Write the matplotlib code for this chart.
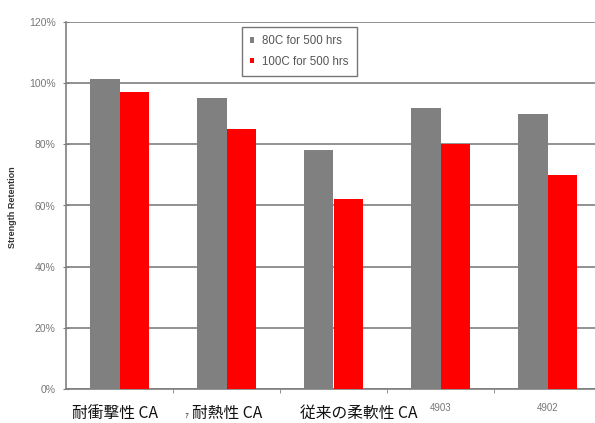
#!/usr/bin/env python3
# Strength retention bar chart (80C / 100C for 500 hrs).

import matplotlib

matplotlib.use("Agg")
import matplotlib.pyplot as plt
import numpy as np
from matplotlib.ticker import FuncFormatter, MultipleLocator

plt.rcParams["font.family"] = ["Liberation Sans", "Noto Sans CJK JP", "DejaVu Sans"]

# 데이터
categories = ["", "", "", "4903", "4902"]
jp_labels = ["耐衝撃性 CA", "耐熱性 CA", "従来の柔軟性 CA"]
series_names = ["80C for 500 hrs", "100C for 500 hrs"]
retention_80c = [1.015, 0.95, 0.78, 0.92, 0.90]
retention_100c = [0.97, 0.85, 0.62, 0.80, 0.70]

GRAY = "#808080"
RED = "#ff0000"
AXIS_GRAY = "#7f7f7f"

fig = plt.figure(figsize=(5.95, 4.23), dpi=100)
# x축은 오른쪽에서 그림 밖으로 약간 잘려 있다.
ax = fig.add_axes([66 / 595, 1 - 389 / 423, 535 / 595, 367 / 423])

x = np.arange(len(categories))
bw = 0.28
ax.bar(x - bw / 2, retention_80c, width=bw, color=GRAY, label=series_names[0], zorder=3)
ax.bar(x + bw / 2, retention_100c, width=bw, color=RED, label=series_names[1], zorder=3)

ax.set_xlim(-0.5, len(categories) - 0.5)
ax.set_ylim(0, 1.2)
ax.yaxis.set_major_locator(MultipleLocator(0.2))
ax.yaxis.set_major_formatter(FuncFormatter(lambda v, _: f"{v * 100:.0f}%"))
ax.grid(axis="y", color=AXIS_GRAY, linewidth=1.2, zorder=0)

ax.set_xticks(x)
ax.set_xticklabels(categories, fontsize=7, color="#777777")
ax.set_xticks(np.arange(len(categories)) + 0.5, minor=True)
ax.tick_params(axis="x", which="major", length=0, pad=10)
ax.tick_params(axis="x", which="minor", length=3, direction="out", color=AXIS_GRAY)
ax.tick_params(axis="y", length=5, direction="inout", color=AXIS_GRAY,
               labelsize=7.5, labelcolor="#777777", pad=5)

for side in ("top", "right"):
    ax.spines[side].set_visible(False)
for side in ("left", "bottom"):
    ax.spines[side].set_color(AXIS_GRAY)
    ax.spines[side].set_linewidth(1.2)

fig.text(13 / 595, 1 - 207 / 423, "Strength Retention", rotation=90,
         ha="center", va="center", fontsize=6.5, fontweight="bold", color="#333333")

leg = ax.legend(loc="upper left", bbox_to_anchor=(0.329, 0.986), fontsize=8.3,
                frameon=True, fancybox=False, edgecolor="#555555",
                handlelength=0.35, handleheight=0.35, handletextpad=0.7,
                borderpad=0.7, labelspacing=0.75, labelcolor="#555555",
                borderaxespad=0)
leg.get_frame().set_linewidth(1.0)

# 앞의 세 범주는 일본어 라벨이 덧씌워져 있다.
jp_font = ["Noto Sans CJK JP", "DejaVu Sans"]
jp_x = [72, 192, 300]
for lbl, px in zip(jp_labels, jp_x):
    fig.text(px / 595, 1 - 413 / 423, lbl, ha="left", va="center",
             fontsize=11.3, family=jp_font, color="#111111")
fig.text(184 / 595, 1 - 416 / 423, "ｧ", ha="left", va="center",
         fontsize=6, family=jp_font, color="#333333")

fig.savefig("out.png", dpi=100)
